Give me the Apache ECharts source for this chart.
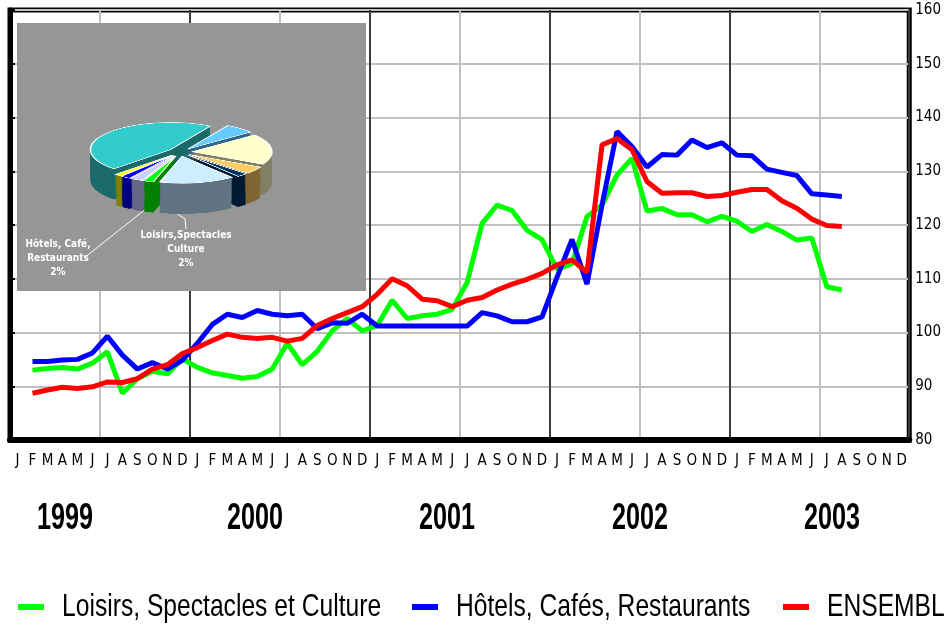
<!DOCTYPE html>
<html>
<head>
<meta charset="utf-8">
<title>Indices 1999-2003</title>
<script src="https://cdn.jsdelivr.net/npm/echarts@6/dist/echarts.min.js"></script>
<style>
  body { margin: 0; background: #fff; }
  #main { position: absolute; left: 0; top: 0; width: 944px; height: 628px; }
  /* camembert "3D" : dessine a plat puis ecrase en hauteur */
  #pie { position: absolute; left: 80px; top: 95px; width: 200px; height: 390px;
         transform: scaleY(0.34); transform-origin: 0 0; }
</style>
</head>
<body>
<div id="main"></div>
<div id="pie"></div>
<script type="text/javascript">
  var monthLetters = ['J', 'F', 'M', 'A', 'M', 'J', 'J', 'A', 'S', 'O', 'N', 'D'];
  var years = ['1999', '2000', '2001', '2002', '2003'];
  var seriesNames = ['Loisirs, Spectacles et Culture', 'Hôtels, Cafés, Restaurants', 'ENSEMBLE'];

  // indices mensuels (janvier 1999 vide)
  var loisirs = [null, 93.0, 93.3, 93.5, 93.2, 94.3, 96.4, 88.7, 91.4, 92.8, 92.3, 95.1,
    93.5, 92.5, 92.0, 91.5, 91.8, 93.2, 98.0, 94.0, 96.5, 100.3, 102.6, 100.3,
    101.3, 106.0, 102.6, 103.1, 103.4, 104.3, 109.3, 120.3, 123.7, 122.7, 119.0, 117.3,
    111.8, 112.8, 121.6, 123.7, 129.3, 132.4, 122.6, 123.1, 121.9, 121.9, 120.6, 121.6,
    120.7, 118.8, 120.1, 118.8, 117.2, 117.6, 108.5, 107.9];
  var hotels = [null, 94.6, 94.6, 94.9, 95.0, 96.2, 99.3, 95.8, 93.2, 94.4, 93.2, 94.8,
    98.0, 101.5, 103.4, 102.8, 104.1, 103.4, 103.1, 103.4, 100.7, 101.8, 101.7, 103.4,
    101.2, 101.2, 101.2, 101.2, 101.2, 101.2, 101.2, 103.7, 103.1, 102.0, 102.0, 102.9,
    110.3, 117.3, 109.0, 123.7, 137.4, 134.6, 130.8, 133.1, 133.0, 135.8, 134.4, 135.3,
    133.0, 132.9, 130.4, 129.8, 129.2, 125.8, 125.6, 125.3];
  var ensemble = [null, 88.7, 89.3, 89.8, 89.6, 89.9, 90.8, 90.7, 91.4, 93.2, 94.0, 96.1,
    97.2, 98.5, 99.7, 99.1, 98.9, 99.1, 98.4, 98.9, 101.3, 102.6, 103.7, 104.8,
    107.1, 110.0, 108.7, 106.2, 105.9, 104.8, 106.0, 106.5, 107.9, 109.0, 109.9, 111.0,
    112.6, 113.5, 111.2, 134.9, 136.1, 134.0, 128.1, 125.9, 126.0, 126.0, 125.3, 125.5,
    126.1, 126.6, 126.6, 124.5, 123.1, 121.1, 119.9, 119.7];

  // ponderations du camembert (%)
  var pieNames = ['Autres services', 'Transports', 'Hôtels, Café, Restaurants', 'Communication',
    'Loisirs,Spectacles Culture', 'Logement', 'Enseignement', 'Santé', 'Alimentation', 'Habillement'];
  var pieValues = [45.8, 1.4, 2.0, 2.5, 2.0, 15.3, 2.2, 4.4, 18.3, 6.0];

  var lineColors = ['#00ff00', '#0000ff', '#ff0000'];
  var pieTop = ['#33cccc', '#ffff00', '#0000ff', '#ccccff', '#00ff00', '#cceeff', '#003366', '#ffcc66', '#ffffcc', '#66ccff'];
  var pieSide = ['#1b6b6b', '#808000', '#000080', '#666688', '#008000', '#607482', '#001a33', '#806633', '#808066', '#336688'];

  var narrow = "'Liberation Sans Narrow', 'DejaVu Sans Condensed', sans-serif";

  var months = [];
  for (var y = 0; y < years.length; y++) {
    for (var m = 0; m < 12; m++) months.push(monthLetters[m]);
  }

  var graphics = [{
    type: 'rect', z: 1,
    shape: { x: 17, y: 23, width: 349, height: 268 },
    style: { fill: '#969696' }
  }];

  // annees sous l'axe (texte etroit)
  var yearCenters = [65, 255, 447, 640, 832];
  for (var i = 0; i < years.length; i++) {
    graphics.push({
      type: 'text', z: 5, x: yearCenters[i], y: 519, scaleX: 0.68,
      style: { text: years[i], fill: '#000', font: "bold 37px 'Liberation Sans', Arial, sans-serif",
        align: 'center', verticalAlign: 'middle' }
    });
  }

  // legende en bas (texte etroit, comme l'original)
  var legendIconX = [18, 412, 783];
  for (var j = 0; j < seriesNames.length; j++) {
    graphics.push({
      type: 'rect', z: 5, shape: { x: legendIconX[j], y: 604, width: 26, height: 6 },
      style: { fill: lineColors[j] }
    });
    graphics.push({
      type: 'text', z: 5, x: legendIconX[j] + 44, y: 607, scaleX: 0.77,
      style: { text: seriesNames[j], fill: '#000', font: "32px 'Liberation Sans', Arial, sans-serif",
        align: 'left', verticalAlign: 'middle' }
    });
  }

  // etiquettes du camembert
  var pieLabelFont = 'bold 10px ' + narrow;
  graphics.push(
    { type: 'text', z: 5, style: { text: 'Hôtels, Café,\nRestaurants\n2%', x: 58, y: 258, fill: '#fff',
        font: pieLabelFont, align: 'center', verticalAlign: 'middle', lineHeight: 14 } },
    { type: 'polyline', z: 5, shape: { points: [[84, 258], [147, 208]] },
      style: { stroke: '#fff', lineWidth: 1, fill: null } },
    { type: 'text', z: 5, style: { text: 'Loisirs,Spectacles\nCulture\n2%', x: 186, y: 249, fill: '#fff',
        font: pieLabelFont, align: 'center', verticalAlign: 'middle', lineHeight: 14 } },
    { type: 'polyline', z: 5, shape: { points: [[172, 210], [185, 219], [186, 229]] },
      style: { stroke: '#fff', lineWidth: 1, fill: null } }
  );

  function lineSeries(idx, data) {
    return {
      name: seriesNames[idx], type: 'line', data: data, showSymbol: false,
      lineStyle: { color: lineColors[idx], width: 5 }, itemStyle: { color: lineColors[idx] },
      emphasis: { disabled: true }
    };
  }

  var chart = echarts.init(document.getElementById('main'));
  chart.setOption({
    animation: false,
    grid: { left: 10, right: 34, top: 10, bottom: 188, show: true, borderColor: '#000', borderWidth: 5 },
    xAxis: [{
      type: 'category', data: months, boundaryGap: true,
      axisLine: { show: true, lineStyle: { color: '#000', width: 6 } },
      axisTick: { show: false },
      axisLabel: { interval: 0, color: '#000', fontSize: 15, fontFamily: narrow, margin: 14 },
      splitLine: { show: false }
    }, {
      // axe muet : seulement les traits verticaux (annee / semestre)
      type: 'value', position: 'top', min: 0, max: 60, interval: 6,
      axisLine: { show: false }, axisTick: { show: false }, axisLabel: { show: false },
      splitLine: { show: true, lineStyle: { color: ['#3c3c3c', '#c0c0c0'], width: 2 } }
    }],
    yAxis: {
      type: 'value', position: 'right', min: 80, max: 160, interval: 10,
      axisLine: { show: true, lineStyle: { color: '#000', width: 5 } },
      axisTick: { show: true, length: 5, lineStyle: { color: '#000', width: 2 } },
      axisLabel: { color: '#000', fontSize: 15, fontFamily: narrow, margin: 6 },
      splitLine: { show: true, lineStyle: { color: '#c0c0c0', width: 2 } }
    },
    series: [
      lineSeries(0, loisirs),
      lineSeries(1, hotels),
      lineSeries(2, ensemble)
    ],
    graphic: graphics
  });

  // camembert : couches de cote puis face du dessus
  function pieLayer(dy, colors, border) {
    return {
      type: 'pie', silent: true, animation: false,
      center: [100, 168 + dy], radius: 80,
      startAngle: 60, clockwise: false,
      selectedMode: 'multiple', selectedOffset: 12,
      label: { show: false }, labelLine: { show: false },
      emphasis: { disabled: true },
      data: pieValues.map(function (v, i) {
        return { name: pieNames[i], value: v, selected: true,
          itemStyle: { color: colors[i], borderColor: border ? '#fff' : colors[i], borderWidth: border } };
      })
    };
  }
  var pieSeries = [];
  for (var k = 90; k > 0; k -= 3) pieSeries.push(pieLayer(k, pieSide, 0));
  pieSeries.push(pieLayer(0, pieTop, 1.5));

  var pieChart = echarts.init(document.getElementById('pie'));
  pieChart.setOption({ animation: false, series: pieSeries });
</script>
</body>
</html>
